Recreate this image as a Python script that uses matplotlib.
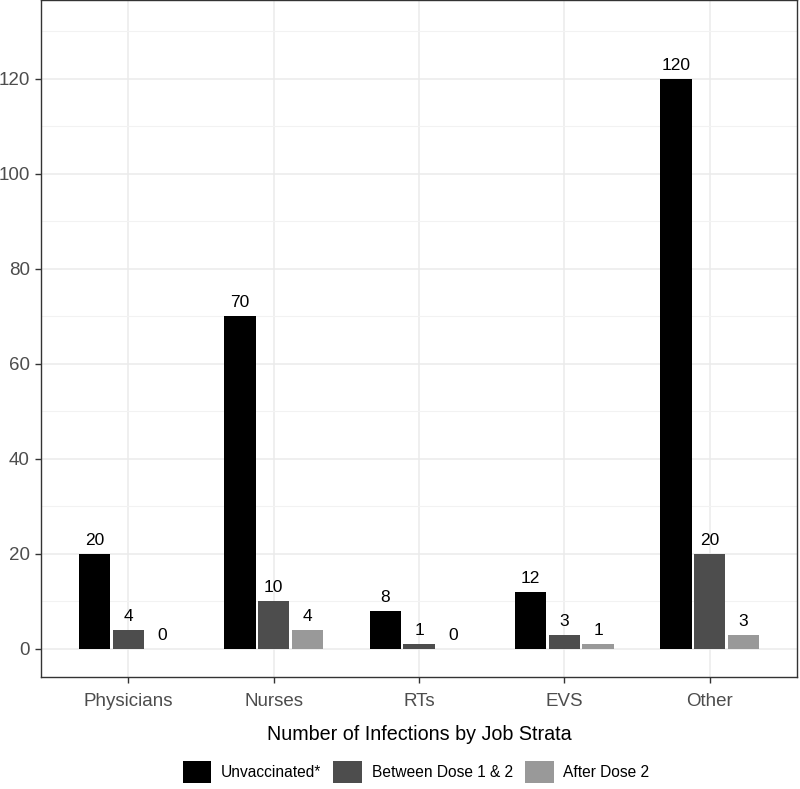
import matplotlib.pyplot as plt
import numpy as np

plt.rcParams['font.family'] = ['Liberation Sans', 'DejaVu Sans']

# data
jobs = ['Physicians', 'Nurses', 'RTs', 'EVS', 'Other']
series = ['Unvaccinated*', 'Between Dose 1 & 2', 'After Dose 2']
unvacc = [20, 70, 8, 12, 120]
between = [4, 10, 1, 3, 20]
after = [0, 4, 0, 1, 3]
colors = ['#000000', '#4d4d4d', '#999999']

fig = plt.figure(figsize=(8, 7.89), dpi=100)
ax = fig.add_axes([41/800, 1 - 677/789, 756/800, 677/789])

x = np.arange(1, len(jobs) + 1)
step = 0.232
width = 0.216
for i, (vals, col) in enumerate(zip([unvacc, between, after], colors)):
    pos = x + (i - 1) * step
    ax.bar(pos, vals, width=width, color=col, label=series[i], zorder=3)
    for p, v in zip(pos, vals):
        ax.text(p, v + 1.3, str(v), ha='center', va='bottom', fontsize=12.5, color='black', zorder=4)

ax.set_xlim(0.4, 5.6)
ax.set_ylim(-5.9, 136.6)
ax.set_xticks(x)
ax.set_xticklabels(jobs)
ax.set_yticks(np.arange(0, 121, 20))
ax.set_yticks(np.arange(10, 131, 20), minor=True)
ax.tick_params(axis='both', which='major', labelsize=13.5, colors='#333333',
               labelcolor='#4d4d4d', length=4.5, width=1)
ax.tick_params(axis='x', which='major', pad=7)
ax.tick_params(axis='y', which='major', pad=3.5)
ax.tick_params(axis='y', which='minor', length=0)
ax.grid(True, which='major', color='#ebebeb', linewidth=1.1, zorder=0)
ax.grid(True, which='minor', axis='y', color='#f2f2f2', linewidth=0.8, zorder=0)
for s in ax.spines.values():
    s.set_color('#333333')
    s.set_linewidth(1.0)
ax.set_xlabel('Number of Infections by Job Strata', fontsize=14.2, labelpad=11)

handles, labels = ax.get_legend_handles_labels()
fig.legend(handles, labels, loc='center', bbox_to_anchor=(0.52, 1 - 772/789), ncol=3,
           frameon=False, fontsize=11.2, handlelength=1.85, handleheight=1.75,
           handletextpad=0.6, columnspacing=0.8)

fig.savefig('out.png', dpi=100)
